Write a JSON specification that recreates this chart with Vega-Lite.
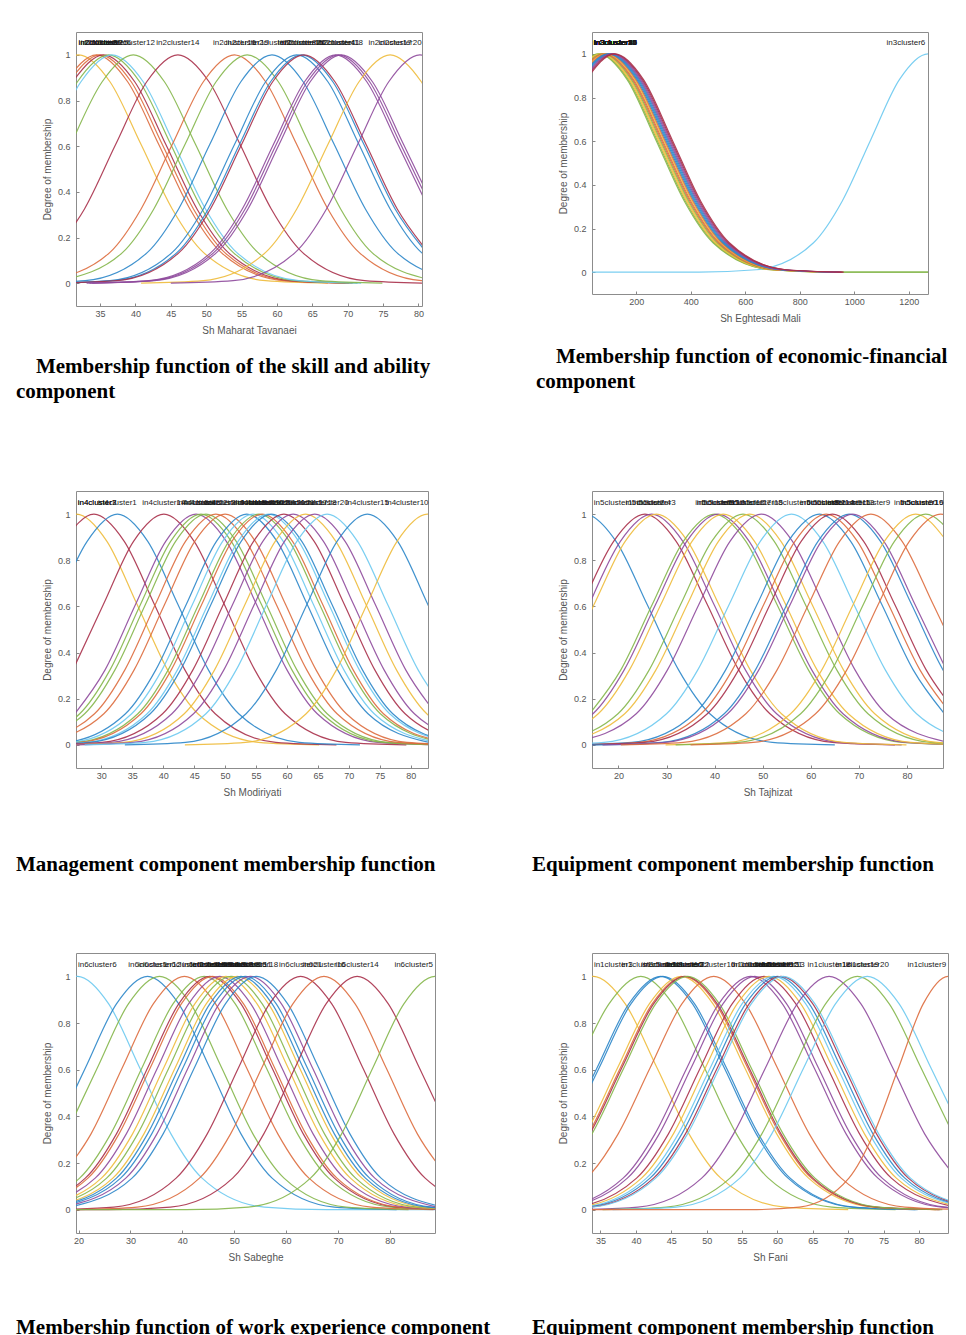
{
"$schema": "https://vega.github.io/schema/vega-lite/v6.json",
"background": "white",
"padding": {"left": 15, "top": 31, "right": 5, "bottom": 5},
"bounds": "flush",
"columns": 2,
"spacing": {"row": 185, "column": 157},
"datasets": {
"p1": [
{"k":3,"x":27.6,"y":0.882},{"k":3,"x":32,"y":1},{"k":3,"x":36.4,"y":0.882},{"k":3,"x":40.8,"y":0.607},{"k":3,"x":45.2,"y":0.325},{"k":3,"x":49.6,"y":0.135},{"k":3,"x":58.4,"y":0.011},{"k":3,"x":67.2,"y":0},
{"k":2,"x":30.1,"y":0.882},{"k":2,"x":34.5,"y":1},{"k":2,"x":38.9,"y":0.882},{"k":2,"x":43.3,"y":0.607},{"k":2,"x":47.7,"y":0.325},{"k":2,"x":52.1,"y":0.135},{"k":2,"x":60.9,"y":0.011},{"k":2,"x":69.7,"y":0},
{"k":9,"x":30.6,"y":0.882},{"k":9,"x":35,"y":1},{"k":9,"x":39.4,"y":0.882},{"k":9,"x":43.8,"y":0.607},{"k":9,"x":48.2,"y":0.325},{"k":9,"x":52.6,"y":0.135},{"k":9,"x":61.4,"y":0.011},{"k":9,"x":70.2,"y":0},
{"k":7,"x":31.1,"y":0.882},{"k":7,"x":35.5,"y":1},{"k":7,"x":39.9,"y":0.882},{"k":7,"x":44.3,"y":0.607},{"k":7,"x":48.7,"y":0.325},{"k":7,"x":53.1,"y":0.135},{"k":7,"x":61.9,"y":0.011},{"k":7,"x":70.7,"y":0},
{"k":5,"x":27.4,"y":0.607},{"k":5,"x":31.8,"y":0.882},{"k":5,"x":36.2,"y":1},{"k":5,"x":40.6,"y":0.882},{"k":5,"x":45,"y":0.607},{"k":5,"x":49.4,"y":0.325},{"k":5,"x":53.8,"y":0.135},{"k":5,"x":62.6,"y":0.011},{"k":5,"x":71.4,"y":0},
{"k":6,"x":27.9,"y":0.607},{"k":6,"x":32.3,"y":0.882},{"k":6,"x":36.7,"y":1},{"k":6,"x":41.1,"y":0.882},{"k":6,"x":45.5,"y":0.607},{"k":6,"x":49.9,"y":0.325},{"k":6,"x":54.3,"y":0.135},{"k":6,"x":63.1,"y":0.011},{"k":6,"x":71.9,"y":0},
{"k":12,"x":30.9,"y":0.607},{"k":12,"x":35.3,"y":0.882},{"k":12,"x":39.7,"y":1},{"k":12,"x":44.1,"y":0.882},{"k":12,"x":48.5,"y":0.607},{"k":12,"x":52.9,"y":0.325},{"k":12,"x":57.3,"y":0.135},{"k":12,"x":66.1,"y":0.011},{"k":12,"x":74.9,"y":0},
{"k":14,"x":28.4,"y":0.135},{"k":14,"x":32.8,"y":0.325},{"k":14,"x":37.2,"y":0.607},{"k":14,"x":41.6,"y":0.882},{"k":14,"x":46,"y":1},{"k":14,"x":50.4,"y":0.882},{"k":14,"x":54.8,"y":0.607},{"k":14,"x":59.2,"y":0.325},{"k":14,"x":63.6,"y":0.135},{"k":14,"x":72.4,"y":0.011},{"k":14,"x":81.2,"y":0},
{"k":16,"x":27.6,"y":0.011},{"k":16,"x":36.4,"y":0.135},{"k":16,"x":40.8,"y":0.325},{"k":16,"x":45.2,"y":0.607},{"k":16,"x":49.6,"y":0.882},{"k":16,"x":54,"y":1},{"k":16,"x":58.4,"y":0.882},{"k":16,"x":62.8,"y":0.607},{"k":16,"x":67.2,"y":0.325},{"k":16,"x":71.6,"y":0.135},{"k":16,"x":80.4,"y":0.011},{"k":16,"x":89.2,"y":0},
{"k":19,"x":29.4,"y":0.011},{"k":19,"x":38.2,"y":0.135},{"k":19,"x":42.6,"y":0.325},{"k":19,"x":47,"y":0.607},{"k":19,"x":51.4,"y":0.882},{"k":19,"x":55.8,"y":1},{"k":19,"x":60.2,"y":0.882},{"k":19,"x":64.6,"y":0.607},{"k":19,"x":69,"y":0.325},{"k":19,"x":73.4,"y":0.135},{"k":19,"x":82.2,"y":0.011},
{"k":1,"x":24.1,"y":0},{"k":1,"x":32.9,"y":0.011},{"k":1,"x":41.7,"y":0.135},{"k":1,"x":46.1,"y":0.325},{"k":1,"x":50.5,"y":0.607},{"k":1,"x":54.9,"y":0.882},{"k":1,"x":59.3,"y":1},{"k":1,"x":63.7,"y":0.882},{"k":1,"x":68.1,"y":0.607},{"k":1,"x":72.5,"y":0.325},{"k":1,"x":76.9,"y":0.135},{"k":1,"x":85.7,"y":0.011},
{"k":8,"x":27.6,"y":0},{"k":8,"x":36.4,"y":0.011},{"k":8,"x":45.2,"y":0.135},{"k":8,"x":49.6,"y":0.325},{"k":8,"x":54,"y":0.607},{"k":8,"x":58.4,"y":0.882},{"k":8,"x":62.8,"y":1},{"k":8,"x":67.2,"y":0.882},{"k":8,"x":71.6,"y":0.607},{"k":8,"x":76,"y":0.325},{"k":8,"x":80.4,"y":0.135},{"k":8,"x":89.2,"y":0.011},
{"k":15,"x":28.3,"y":0},{"k":15,"x":37.1,"y":0.011},{"k":15,"x":45.9,"y":0.135},{"k":15,"x":50.3,"y":0.325},{"k":15,"x":54.7,"y":0.607},{"k":15,"x":59.1,"y":0.882},{"k":15,"x":63.5,"y":1},{"k":15,"x":67.9,"y":0.882},{"k":15,"x":72.3,"y":0.607},{"k":15,"x":76.7,"y":0.325},{"k":15,"x":81.1,"y":0.135},
{"k":21,"x":28.6,"y":0},{"k":21,"x":37.4,"y":0.011},{"k":21,"x":46.2,"y":0.135},{"k":21,"x":50.6,"y":0.325},{"k":21,"x":55,"y":0.607},{"k":21,"x":59.4,"y":0.882},{"k":21,"x":63.8,"y":1},{"k":21,"x":68.2,"y":0.882},{"k":21,"x":72.6,"y":0.607},{"k":21,"x":77,"y":0.325},{"k":21,"x":81.4,"y":0.135},
{"k":4,"x":33.1,"y":0},{"k":4,"x":41.9,"y":0.011},{"k":4,"x":50.7,"y":0.135},{"k":4,"x":55.1,"y":0.325},{"k":4,"x":59.5,"y":0.607},{"k":4,"x":63.9,"y":0.882},{"k":4,"x":68.3,"y":1},{"k":4,"x":72.7,"y":0.882},{"k":4,"x":77.1,"y":0.607},{"k":4,"x":81.5,"y":0.325},
{"k":11,"x":33.5,"y":0},{"k":11,"x":42.3,"y":0.011},{"k":11,"x":51.1,"y":0.135},{"k":11,"x":55.5,"y":0.325},{"k":11,"x":59.9,"y":0.607},{"k":11,"x":64.3,"y":0.882},{"k":11,"x":68.7,"y":1},{"k":11,"x":73.1,"y":0.882},{"k":11,"x":77.5,"y":0.607},{"k":11,"x":81.9,"y":0.325},
{"k":18,"x":33.9,"y":0},{"k":18,"x":42.7,"y":0.011},{"k":18,"x":51.5,"y":0.135},{"k":18,"x":55.9,"y":0.325},{"k":18,"x":60.3,"y":0.607},{"k":18,"x":64.7,"y":0.882},{"k":18,"x":69.1,"y":1},{"k":18,"x":73.5,"y":0.882},{"k":18,"x":77.9,"y":0.607},{"k":18,"x":82.3,"y":0.325},
{"k":17,"x":40.8,"y":0},{"k":17,"x":49.6,"y":0.011},{"k":17,"x":58.4,"y":0.135},{"k":17,"x":62.8,"y":0.325},{"k":17,"x":67.2,"y":0.607},{"k":17,"x":71.6,"y":0.882},{"k":17,"x":76,"y":1},{"k":17,"x":80.4,"y":0.882},{"k":17,"x":84.8,"y":0.607},
{"k":25,"x":45,"y":0},{"k":25,"x":53.8,"y":0.011},{"k":25,"x":62.6,"y":0.135},{"k":25,"x":67,"y":0.325},{"k":25,"x":71.4,"y":0.607},{"k":25,"x":75.8,"y":0.882},{"k":25,"x":80.2,"y":1},{"k":25,"x":84.6,"y":0.882}
],
"l1": [
{"lx":34.7,"t":"in2cluster3"},{"lx":34.7,"t":"in2cluster2"},{"lx":35,"t":"in2cluster9"},{"lx":35.5,"t":"in2cluster7"},{"lx":36.2,"t":"in2cluster5"},{"lx":36.7,"t":"in2cluster6"},{"lx":39.7,"t":"in2cluster12"},{"lx":46,"t":"in2cluster14"},{"lx":54,"t":"in2cluster16"},{"lx":55.8,"t":"in2cluster19"},{"lx":59.3,"t":"in2cluster1"},{"lx":62.8,"t":"in2cluster8"},{"lx":63.5,"t":"in2cluster15"},{"lx":63.8,"t":"in2cluster21"},{"lx":68.3,"t":"in2cluster4"},{"lx":68.7,"t":"in2cluster11"},{"lx":69.1,"t":"in2cluster18"},{"lx":76,"t":"in2cluster17"},{"lx":77.4,"t":"in2cluster20"}
],
"p2": [
{"k":6,"x":20,"y":0},{"k":6,"x":431,"y":0},{"k":6,"x":641,"y":0.011},{"k":6,"x":851,"y":0.135},{"k":6,"x":956,"y":0.325},{"k":6,"x":1061,"y":0.607},{"k":6,"x":1166,"y":0.882},{"k":6,"x":1271,"y":1},{"k":6,"x":1376,"y":0.882},
{"k":5,"x":-43,"y":0.882},{"k":5,"x":62,"y":1},{"k":5,"x":167,"y":0.882},{"k":5,"x":272,"y":0.607},{"k":5,"x":377,"y":0.325},{"k":5,"x":482,"y":0.135},{"k":5,"x":692,"y":0.011},{"k":5,"x":902,"y":0},{"k":5,"x":1290,"y":0},
{"k":12,"x":-39,"y":0.882},{"k":12,"x":66,"y":1},{"k":12,"x":171,"y":0.882},{"k":12,"x":276,"y":0.607},{"k":12,"x":381,"y":0.325},{"k":12,"x":486,"y":0.135},{"k":12,"x":696,"y":0.011},{"k":12,"x":906,"y":0},{"k":12,"x":1290,"y":0},
{"k":3,"x":-35,"y":0.882},{"k":3,"x":70,"y":1},{"k":3,"x":175,"y":0.882},{"k":3,"x":280,"y":0.607},{"k":3,"x":385,"y":0.325},{"k":3,"x":490,"y":0.135},{"k":3,"x":700,"y":0.011},{"k":3,"x":910,"y":0},
{"k":10,"x":-31,"y":0.882},{"k":10,"x":74,"y":1},{"k":10,"x":179,"y":0.882},{"k":10,"x":284,"y":0.607},{"k":10,"x":389,"y":0.325},{"k":10,"x":494,"y":0.135},{"k":10,"x":704,"y":0.011},{"k":10,"x":914,"y":0},
{"k":19,"x":-27,"y":0.882},{"k":19,"x":78,"y":1},{"k":19,"x":183,"y":0.882},{"k":19,"x":288,"y":0.607},{"k":19,"x":393,"y":0.325},{"k":19,"x":498,"y":0.135},{"k":19,"x":708,"y":0.011},{"k":19,"x":918,"y":0},
{"k":2,"x":-23,"y":0.882},{"k":2,"x":82,"y":1},{"k":2,"x":187,"y":0.882},{"k":2,"x":292,"y":0.607},{"k":2,"x":397,"y":0.325},{"k":2,"x":502,"y":0.135},{"k":2,"x":712,"y":0.011},{"k":2,"x":922,"y":0},
{"k":9,"x":-19,"y":0.882},{"k":9,"x":86,"y":1},{"k":9,"x":191,"y":0.882},{"k":9,"x":296,"y":0.607},{"k":9,"x":401,"y":0.325},{"k":9,"x":506,"y":0.135},{"k":9,"x":716,"y":0.011},{"k":9,"x":926,"y":0},
{"k":17,"x":-15,"y":0.882},{"k":17,"x":90,"y":1},{"k":17,"x":195,"y":0.882},{"k":17,"x":300,"y":0.607},{"k":17,"x":405,"y":0.325},{"k":17,"x":510,"y":0.135},{"k":17,"x":720,"y":0.011},{"k":17,"x":930,"y":0},
{"k":16,"x":-11,"y":0.882},{"k":16,"x":94,"y":1},{"k":16,"x":199,"y":0.882},{"k":16,"x":304,"y":0.607},{"k":16,"x":409,"y":0.325},{"k":16,"x":514,"y":0.135},{"k":16,"x":724,"y":0.011},{"k":16,"x":934,"y":0},
{"k":1,"x":-7,"y":0.882},{"k":1,"x":98,"y":1},{"k":1,"x":203,"y":0.882},{"k":1,"x":308,"y":0.607},{"k":1,"x":413,"y":0.325},{"k":1,"x":518,"y":0.135},{"k":1,"x":728,"y":0.011},{"k":1,"x":938,"y":0},
{"k":8,"x":-3,"y":0.882},{"k":8,"x":102,"y":1},{"k":8,"x":207,"y":0.882},{"k":8,"x":312,"y":0.607},{"k":8,"x":417,"y":0.325},{"k":8,"x":522,"y":0.135},{"k":8,"x":732,"y":0.011},{"k":8,"x":942,"y":0},
{"k":15,"x":1,"y":0.882},{"k":15,"x":106,"y":1},{"k":15,"x":211,"y":0.882},{"k":15,"x":316,"y":0.607},{"k":15,"x":421,"y":0.325},{"k":15,"x":526,"y":0.135},{"k":15,"x":736,"y":0.011},{"k":15,"x":946,"y":0},
{"k":4,"x":5,"y":0.882},{"k":4,"x":110,"y":1},{"k":4,"x":215,"y":0.882},{"k":4,"x":320,"y":0.607},{"k":4,"x":425,"y":0.325},{"k":4,"x":530,"y":0.135},{"k":4,"x":740,"y":0.011},{"k":4,"x":950,"y":0},
{"k":11,"x":9,"y":0.882},{"k":11,"x":114,"y":1},{"k":11,"x":219,"y":0.882},{"k":11,"x":324,"y":0.607},{"k":11,"x":429,"y":0.325},{"k":11,"x":534,"y":0.135},{"k":11,"x":744,"y":0.011},{"k":11,"x":954,"y":0},
{"k":7,"x":13,"y":0.882},{"k":7,"x":118,"y":1},{"k":7,"x":223,"y":0.882},{"k":7,"x":328,"y":0.607},{"k":7,"x":433,"y":0.325},{"k":7,"x":538,"y":0.135},{"k":7,"x":748,"y":0.011},{"k":7,"x":958,"y":0},
{"k":14,"x":17,"y":0.882},{"k":14,"x":122,"y":1},{"k":14,"x":227,"y":0.882},{"k":14,"x":332,"y":0.607},{"k":14,"x":437,"y":0.325},{"k":14,"x":542,"y":0.135},{"k":14,"x":752,"y":0.011},{"k":14,"x":962,"y":0}
],
"l2": [
{"lx":116,"t":"in3cluster5"},{"lx":124,"t":"in3cluster12"},{"lx":116,"t":"in3cluster3"},{"lx":124,"t":"in3cluster10"},{"lx":124,"t":"in3cluster19"},{"lx":116,"t":"in3cluster2"},{"lx":116,"t":"in3cluster9"},{"lx":124,"t":"in3cluster17"},{"lx":124,"t":"in3cluster16"},{"lx":116,"t":"in3cluster1"},{"lx":116,"t":"in3cluster8"},{"lx":124,"t":"in3cluster15"},{"lx":116,"t":"in3cluster4"},{"lx":124,"t":"in3cluster11"},{"lx":116,"t":"in3cluster7"},{"lx":124,"t":"in3cluster14"},{"lx":1190,"t":"in3cluster6"}
],
"p3": [
{"k":3,"x":21.1,"y":0.882},{"k":3,"x":26,"y":1},{"k":3,"x":30.9,"y":0.882},{"k":3,"x":35.8,"y":0.607},{"k":3,"x":40.7,"y":0.325},{"k":3,"x":45.6,"y":0.135},{"k":3,"x":55.4,"y":0.011},{"k":3,"x":65.2,"y":0},
{"k":7,"x":23.9,"y":0.882},{"k":7,"x":28.8,"y":1},{"k":7,"x":33.7,"y":0.882},{"k":7,"x":38.6,"y":0.607},{"k":7,"x":43.5,"y":0.325},{"k":7,"x":48.4,"y":0.135},{"k":7,"x":58.2,"y":0.011},{"k":7,"x":68,"y":0},
{"k":1,"x":22.8,"y":0.607},{"k":1,"x":27.7,"y":0.882},{"k":1,"x":32.6,"y":1},{"k":1,"x":37.5,"y":0.882},{"k":1,"x":42.4,"y":0.607},{"k":1,"x":47.3,"y":0.325},{"k":1,"x":52.2,"y":0.135},{"k":1,"x":62,"y":0.011},{"k":1,"x":71.8,"y":0},
{"k":14,"x":25.4,"y":0.325},{"k":14,"x":30.3,"y":0.607},{"k":14,"x":35.2,"y":0.882},{"k":14,"x":40.1,"y":1},{"k":14,"x":45,"y":0.882},{"k":14,"x":49.9,"y":0.607},{"k":14,"x":54.8,"y":0.325},{"k":14,"x":59.7,"y":0.135},{"k":14,"x":69.5,"y":0.011},{"k":14,"x":79.3,"y":0},
{"k":4,"x":25.7,"y":0.135},{"k":4,"x":30.6,"y":0.325},{"k":4,"x":35.5,"y":0.607},{"k":4,"x":40.4,"y":0.882},{"k":4,"x":45.3,"y":1},{"k":4,"x":50.2,"y":0.882},{"k":4,"x":55.1,"y":0.607},{"k":4,"x":60,"y":0.325},{"k":4,"x":64.9,"y":0.135},{"k":4,"x":74.7,"y":0.011},{"k":4,"x":84.5,"y":0},
{"k":5,"x":16.7,"y":0.011},{"k":5,"x":26.5,"y":0.135},{"k":5,"x":31.4,"y":0.325},{"k":5,"x":36.3,"y":0.607},{"k":5,"x":41.2,"y":0.882},{"k":5,"x":46.1,"y":1},{"k":5,"x":51,"y":0.882},{"k":5,"x":55.9,"y":0.607},{"k":5,"x":60.8,"y":0.325},{"k":5,"x":65.7,"y":0.135},{"k":5,"x":75.5,"y":0.011},{"k":5,"x":85.3,"y":0},
{"k":12,"x":17.5,"y":0.011},{"k":12,"x":27.3,"y":0.135},{"k":12,"x":32.2,"y":0.325},{"k":12,"x":37.1,"y":0.607},{"k":12,"x":42,"y":0.882},{"k":12,"x":46.9,"y":1},{"k":12,"x":51.8,"y":0.882},{"k":12,"x":56.7,"y":0.607},{"k":12,"x":61.6,"y":0.325},{"k":12,"x":66.5,"y":0.135},{"k":12,"x":76.3,"y":0.011},{"k":12,"x":86.1,"y":0},
{"k":2,"x":19.1,"y":0.011},{"k":2,"x":28.9,"y":0.135},{"k":2,"x":33.8,"y":0.325},{"k":2,"x":38.7,"y":0.607},{"k":2,"x":43.6,"y":0.882},{"k":2,"x":48.5,"y":1},{"k":2,"x":53.4,"y":0.882},{"k":2,"x":58.3,"y":0.607},{"k":2,"x":63.2,"y":0.325},{"k":2,"x":68.1,"y":0.135},{"k":2,"x":77.9,"y":0.011},{"k":2,"x":87.7,"y":0},
{"k":9,"x":20.6,"y":0.011},{"k":9,"x":30.4,"y":0.135},{"k":9,"x":35.3,"y":0.325},{"k":9,"x":40.2,"y":0.607},{"k":9,"x":45.1,"y":0.882},{"k":9,"x":50,"y":1},{"k":9,"x":54.9,"y":0.882},{"k":9,"x":59.8,"y":0.607},{"k":9,"x":64.7,"y":0.325},{"k":9,"x":69.6,"y":0.135},{"k":9,"x":79.4,"y":0.011},{"k":9,"x":89.2,"y":0},
{"k":8,"x":14.3,"y":0},{"k":8,"x":24.1,"y":0.011},{"k":8,"x":33.9,"y":0.135},{"k":8,"x":38.8,"y":0.325},{"k":8,"x":43.7,"y":0.607},{"k":8,"x":48.6,"y":0.882},{"k":8,"x":53.5,"y":1},{"k":8,"x":58.4,"y":0.882},{"k":8,"x":63.3,"y":0.607},{"k":8,"x":68.2,"y":0.325},{"k":8,"x":73.1,"y":0.135},{"k":8,"x":82.9,"y":0.011},
{"k":6,"x":15.3,"y":0},{"k":6,"x":25.1,"y":0.011},{"k":6,"x":34.9,"y":0.135},{"k":6,"x":39.8,"y":0.325},{"k":6,"x":44.7,"y":0.607},{"k":6,"x":49.6,"y":0.882},{"k":6,"x":54.5,"y":1},{"k":6,"x":59.4,"y":0.882},{"k":6,"x":64.3,"y":0.607},{"k":6,"x":69.2,"y":0.325},{"k":6,"x":74.1,"y":0.135},{"k":6,"x":83.9,"y":0.011},
{"k":19,"x":16.3,"y":0},{"k":19,"x":26.1,"y":0.011},{"k":19,"x":35.9,"y":0.135},{"k":19,"x":40.8,"y":0.325},{"k":19,"x":45.7,"y":0.607},{"k":19,"x":50.6,"y":0.882},{"k":19,"x":55.5,"y":1},{"k":19,"x":60.4,"y":0.882},{"k":19,"x":65.3,"y":0.607},{"k":19,"x":70.2,"y":0.325},{"k":19,"x":75.1,"y":0.135},{"k":19,"x":84.9,"y":0.011},
{"k":16,"x":16.8,"y":0},{"k":16,"x":26.6,"y":0.011},{"k":16,"x":36.4,"y":0.135},{"k":16,"x":41.3,"y":0.325},{"k":16,"x":46.2,"y":0.607},{"k":16,"x":51.1,"y":0.882},{"k":16,"x":56,"y":1},{"k":16,"x":60.9,"y":0.882},{"k":16,"x":65.8,"y":0.607},{"k":16,"x":70.7,"y":0.325},{"k":16,"x":75.6,"y":0.135},{"k":16,"x":85.4,"y":0.011},
{"k":13,"x":17.8,"y":0},{"k":13,"x":27.6,"y":0.011},{"k":13,"x":37.4,"y":0.135},{"k":13,"x":42.3,"y":0.325},{"k":13,"x":47.2,"y":0.607},{"k":13,"x":52.1,"y":0.882},{"k":13,"x":57,"y":1},{"k":13,"x":61.9,"y":0.882},{"k":13,"x":66.8,"y":0.607},{"k":13,"x":71.7,"y":0.325},{"k":13,"x":76.6,"y":0.135},{"k":13,"x":86.4,"y":0.011},
{"k":15,"x":18.3,"y":0},{"k":15,"x":28.1,"y":0.011},{"k":15,"x":37.9,"y":0.135},{"k":15,"x":42.8,"y":0.325},{"k":15,"x":47.7,"y":0.607},{"k":15,"x":52.6,"y":0.882},{"k":15,"x":57.5,"y":1},{"k":15,"x":62.4,"y":0.882},{"k":15,"x":67.3,"y":0.607},{"k":15,"x":72.2,"y":0.325},{"k":15,"x":77.1,"y":0.135},{"k":15,"x":86.9,"y":0.011},
{"k":21,"x":20.3,"y":0},{"k":21,"x":30.1,"y":0.011},{"k":21,"x":39.9,"y":0.135},{"k":21,"x":44.8,"y":0.325},{"k":21,"x":49.7,"y":0.607},{"k":21,"x":54.6,"y":0.882},{"k":21,"x":59.5,"y":1},{"k":21,"x":64.4,"y":0.882},{"k":21,"x":69.3,"y":0.607},{"k":21,"x":74.2,"y":0.325},{"k":21,"x":79.1,"y":0.135},{"k":21,"x":88.9,"y":0.011},
{"k":11,"x":21.8,"y":0},{"k":11,"x":31.6,"y":0.011},{"k":11,"x":41.4,"y":0.135},{"k":11,"x":46.3,"y":0.325},{"k":11,"x":51.2,"y":0.607},{"k":11,"x":56.1,"y":0.882},{"k":11,"x":61,"y":1},{"k":11,"x":65.9,"y":0.882},{"k":11,"x":70.8,"y":0.607},{"k":11,"x":75.7,"y":0.325},{"k":11,"x":80.6,"y":0.135},{"k":11,"x":90.4,"y":0.011},
{"k":17,"x":23.8,"y":0},{"k":17,"x":33.6,"y":0.011},{"k":17,"x":43.4,"y":0.135},{"k":17,"x":48.3,"y":0.325},{"k":17,"x":53.2,"y":0.607},{"k":17,"x":58.1,"y":0.882},{"k":17,"x":63,"y":1},{"k":17,"x":67.9,"y":0.882},{"k":17,"x":72.8,"y":0.607},{"k":17,"x":77.7,"y":0.325},{"k":17,"x":82.6,"y":0.135},{"k":17,"x":92.4,"y":0.011},
{"k":18,"x":25.3,"y":0},{"k":18,"x":35.1,"y":0.011},{"k":18,"x":44.9,"y":0.135},{"k":18,"x":49.8,"y":0.325},{"k":18,"x":54.7,"y":0.607},{"k":18,"x":59.6,"y":0.882},{"k":18,"x":64.5,"y":1},{"k":18,"x":69.4,"y":0.882},{"k":18,"x":74.3,"y":0.607},{"k":18,"x":79.2,"y":0.325},{"k":18,"x":84.1,"y":0.135},
{"k":20,"x":27.3,"y":0},{"k":20,"x":37.1,"y":0.011},{"k":20,"x":46.9,"y":0.135},{"k":20,"x":51.8,"y":0.325},{"k":20,"x":56.7,"y":0.607},{"k":20,"x":61.6,"y":0.882},{"k":20,"x":66.5,"y":1},{"k":20,"x":71.4,"y":0.882},{"k":20,"x":76.3,"y":0.607},{"k":20,"x":81.2,"y":0.325},{"k":20,"x":86.1,"y":0.135},
{"k":22,"x":33.8,"y":0},{"k":22,"x":43.6,"y":0.011},{"k":22,"x":53.4,"y":0.135},{"k":22,"x":58.3,"y":0.325},{"k":22,"x":63.2,"y":0.607},{"k":22,"x":68.1,"y":0.882},{"k":22,"x":73,"y":1},{"k":22,"x":77.9,"y":0.882},{"k":22,"x":82.8,"y":0.607},{"k":22,"x":87.7,"y":0.325},
{"k":10,"x":43.5,"y":0},{"k":10,"x":53.3,"y":0.011},{"k":10,"x":63.1,"y":0.135},{"k":10,"x":68,"y":0.325},{"k":10,"x":72.9,"y":0.607},{"k":10,"x":77.8,"y":0.882},{"k":10,"x":82.7,"y":1},{"k":10,"x":87.6,"y":0.882}
],
"l3": [
{"lx":29.3,"t":"in4cluster3"},{"lx":29.3,"t":"in4cluster7"},{"lx":32.6,"t":"in4cluster1"},{"lx":40.1,"t":"in4cluster14"},{"lx":45.3,"t":"in4cluster4"},{"lx":46.1,"t":"in4cluster5"},{"lx":46.9,"t":"in4cluster12"},{"lx":48.5,"t":"in4cluster2"},{"lx":50,"t":"in4cluster9"},{"lx":53.5,"t":"in4cluster8"},{"lx":54.5,"t":"in4cluster6"},{"lx":55.5,"t":"in4cluster19"},{"lx":56,"t":"in4cluster16"},{"lx":57,"t":"in4cluster13"},{"lx":57.5,"t":"in4cluster15"},{"lx":59.5,"t":"in4cluster21"},{"lx":61,"t":"in4cluster11"},{"lx":63,"t":"in4cluster17"},{"lx":64.5,"t":"in4cluster18"},{"lx":66.5,"t":"in4cluster20"},{"lx":73,"t":"in4cluster15"},{"lx":79.4,"t":"in4cluster10"}
],
"p4": [
{"k":1,"x":6.5,"y":0.882},{"k":1,"x":13,"y":1},{"k":1,"x":19.5,"y":0.882},{"k":1,"x":26,"y":0.607},{"k":1,"x":32.5,"y":0.325},{"k":1,"x":39,"y":0.135},{"k":1,"x":52,"y":0.011},{"k":1,"x":65,"y":0},
{"k":7,"x":12.5,"y":0.607},{"k":7,"x":19,"y":0.882},{"k":7,"x":25.5,"y":1},{"k":7,"x":32,"y":0.882},{"k":7,"x":38.5,"y":0.607},{"k":7,"x":45,"y":0.325},{"k":7,"x":51.5,"y":0.135},{"k":7,"x":64.5,"y":0.011},{"k":7,"x":77.5,"y":0},
{"k":4,"x":13.9,"y":0.607},{"k":4,"x":20.4,"y":0.882},{"k":4,"x":26.9,"y":1},{"k":4,"x":33.4,"y":0.882},{"k":4,"x":39.9,"y":0.607},{"k":4,"x":46.4,"y":0.325},{"k":4,"x":52.9,"y":0.135},{"k":4,"x":65.9,"y":0.011},{"k":4,"x":78.9,"y":0},
{"k":3,"x":8.4,"y":0.325},{"k":3,"x":14.9,"y":0.607},{"k":3,"x":21.4,"y":0.882},{"k":3,"x":27.9,"y":1},{"k":3,"x":34.4,"y":0.882},{"k":3,"x":40.9,"y":0.607},{"k":3,"x":47.4,"y":0.325},{"k":3,"x":53.9,"y":0.135},{"k":3,"x":66.9,"y":0.011},{"k":3,"x":79.9,"y":0},
{"k":5,"x":14,"y":0.135},{"k":5,"x":20.5,"y":0.325},{"k":5,"x":27,"y":0.607},{"k":5,"x":33.5,"y":0.882},{"k":5,"x":40,"y":1},{"k":5,"x":46.5,"y":0.882},{"k":5,"x":53,"y":0.607},{"k":5,"x":59.5,"y":0.325},{"k":5,"x":66,"y":0.135},{"k":5,"x":79,"y":0.011},{"k":5,"x":92,"y":0},
{"k":11,"x":1.7,"y":0.011},{"k":11,"x":14.7,"y":0.135},{"k":11,"x":21.2,"y":0.325},{"k":11,"x":27.7,"y":0.607},{"k":11,"x":34.2,"y":0.882},{"k":11,"x":40.7,"y":1},{"k":11,"x":47.2,"y":0.882},{"k":11,"x":53.7,"y":0.607},{"k":11,"x":60.2,"y":0.325},{"k":11,"x":66.7,"y":0.135},{"k":11,"x":79.7,"y":0.011},{"k":11,"x":92.7,"y":0},
{"k":10,"x":2.8,"y":0.011},{"k":10,"x":15.8,"y":0.135},{"k":10,"x":22.3,"y":0.325},{"k":10,"x":28.8,"y":0.607},{"k":10,"x":35.3,"y":0.882},{"k":10,"x":41.8,"y":1},{"k":10,"x":48.3,"y":0.882},{"k":10,"x":54.8,"y":0.607},{"k":10,"x":61.3,"y":0.325},{"k":10,"x":67.8,"y":0.135},{"k":10,"x":80.8,"y":0.011},{"k":10,"x":93.8,"y":0},
{"k":12,"x":6.9,"y":0.011},{"k":12,"x":19.9,"y":0.135},{"k":12,"x":26.4,"y":0.325},{"k":12,"x":32.9,"y":0.607},{"k":12,"x":39.4,"y":0.882},{"k":12,"x":45.9,"y":1},{"k":12,"x":52.4,"y":0.882},{"k":12,"x":58.9,"y":0.607},{"k":12,"x":65.4,"y":0.325},{"k":12,"x":71.9,"y":0.135},{"k":12,"x":84.9,"y":0.011},{"k":12,"x":97.9,"y":0},
{"k":17,"x":8.3,"y":0.011},{"k":17,"x":21.3,"y":0.135},{"k":17,"x":27.8,"y":0.325},{"k":17,"x":34.3,"y":0.607},{"k":17,"x":40.8,"y":0.882},{"k":17,"x":47.3,"y":1},{"k":17,"x":53.8,"y":0.882},{"k":17,"x":60.3,"y":0.607},{"k":17,"x":66.8,"y":0.325},{"k":17,"x":73.3,"y":0.135},{"k":17,"x":86.3,"y":0.011},{"k":17,"x":99.3,"y":0},
{"k":18,"x":10.7,"y":0.011},{"k":18,"x":23.7,"y":0.135},{"k":18,"x":30.2,"y":0.325},{"k":18,"x":36.7,"y":0.607},{"k":18,"x":43.2,"y":0.882},{"k":18,"x":49.7,"y":1},{"k":18,"x":56.2,"y":0.882},{"k":18,"x":62.7,"y":0.607},{"k":18,"x":69.2,"y":0.325},{"k":18,"x":75.7,"y":0.135},{"k":18,"x":88.7,"y":0.011},
{"k":6,"x":4,"y":0},{"k":6,"x":17,"y":0.011},{"k":6,"x":30,"y":0.135},{"k":6,"x":36.5,"y":0.325},{"k":6,"x":43,"y":0.607},{"k":6,"x":49.5,"y":0.882},{"k":6,"x":56,"y":1},{"k":6,"x":62.5,"y":0.882},{"k":6,"x":69,"y":0.607},{"k":6,"x":75.5,"y":0.325},{"k":6,"x":82,"y":0.135},{"k":6,"x":95,"y":0.011},
{"k":8,"x":9.8,"y":0},{"k":8,"x":22.8,"y":0.011},{"k":8,"x":35.8,"y":0.135},{"k":8,"x":42.3,"y":0.325},{"k":8,"x":48.8,"y":0.607},{"k":8,"x":55.3,"y":0.882},{"k":8,"x":61.8,"y":1},{"k":8,"x":68.3,"y":0.882},{"k":8,"x":74.8,"y":0.607},{"k":8,"x":81.3,"y":0.325},{"k":8,"x":87.8,"y":0.135},
{"k":2,"x":11.2,"y":0},{"k":2,"x":24.2,"y":0.011},{"k":2,"x":37.2,"y":0.135},{"k":2,"x":43.7,"y":0.325},{"k":2,"x":50.2,"y":0.607},{"k":2,"x":56.7,"y":0.882},{"k":2,"x":63.2,"y":1},{"k":2,"x":69.7,"y":0.882},{"k":2,"x":76.2,"y":0.607},{"k":2,"x":82.7,"y":0.325},{"k":2,"x":89.2,"y":0.135},
{"k":14,"x":12.5,"y":0},{"k":14,"x":25.5,"y":0.011},{"k":14,"x":38.5,"y":0.135},{"k":14,"x":45,"y":0.325},{"k":14,"x":51.5,"y":0.607},{"k":14,"x":58,"y":0.882},{"k":14,"x":64.5,"y":1},{"k":14,"x":71,"y":0.882},{"k":14,"x":77.5,"y":0.607},{"k":14,"x":84,"y":0.325},{"k":14,"x":90.5,"y":0.135},
{"k":15,"x":3,"y":0},{"k":15,"x":16,"y":0},{"k":15,"x":29,"y":0.011},{"k":15,"x":42,"y":0.135},{"k":15,"x":48.5,"y":0.325},{"k":15,"x":55,"y":0.607},{"k":15,"x":61.5,"y":0.882},{"k":15,"x":68,"y":1},{"k":15,"x":74.5,"y":0.882},{"k":15,"x":81,"y":0.607},{"k":15,"x":87.5,"y":0.325},{"k":15,"x":94,"y":0.135},
{"k":25,"x":16.7,"y":0},{"k":25,"x":29.7,"y":0.011},{"k":25,"x":42.7,"y":0.135},{"k":25,"x":49.2,"y":0.325},{"k":25,"x":55.7,"y":0.607},{"k":25,"x":62.2,"y":0.882},{"k":25,"x":68.7,"y":1},{"k":25,"x":75.2,"y":0.882},{"k":25,"x":81.7,"y":0.607},{"k":25,"x":88.2,"y":0.325},
{"k":9,"x":20.5,"y":0},{"k":9,"x":33.5,"y":0.011},{"k":9,"x":46.5,"y":0.135},{"k":9,"x":53,"y":0.325},{"k":9,"x":59.5,"y":0.607},{"k":9,"x":66,"y":0.882},{"k":9,"x":72.5,"y":1},{"k":9,"x":79,"y":0.882},{"k":9,"x":85.5,"y":0.607},{"k":9,"x":92,"y":0.325},
{"k":24,"x":29.8,"y":0},{"k":24,"x":42.8,"y":0.011},{"k":24,"x":55.8,"y":0.135},{"k":24,"x":62.3,"y":0.325},{"k":24,"x":68.8,"y":0.607},{"k":24,"x":75.3,"y":0.882},{"k":24,"x":81.8,"y":1},{"k":24,"x":88.3,"y":0.882},
{"k":19,"x":31.9,"y":0},{"k":19,"x":44.9,"y":0.011},{"k":19,"x":57.9,"y":0.135},{"k":19,"x":64.4,"y":0.325},{"k":19,"x":70.9,"y":0.607},{"k":19,"x":77.4,"y":0.882},{"k":19,"x":83.9,"y":1},{"k":19,"x":90.4,"y":0.882},
{"k":16,"x":35,"y":0},{"k":16,"x":48,"y":0.011},{"k":16,"x":61,"y":0.135},{"k":16,"x":67.5,"y":0.325},{"k":16,"x":74,"y":0.607},{"k":16,"x":80.5,"y":0.882},{"k":16,"x":87,"y":1},{"k":16,"x":93.5,"y":0.882}
],
"l4": [
{"lx":18.9,"t":"in5cluster1"},{"lx":25.5,"t":"in5cluster7"},{"lx":26.9,"t":"in5cluster4"},{"lx":27.9,"t":"in5cluster3"},{"lx":40,"t":"in5cluster5"},{"lx":40.7,"t":"in5cluster11"},{"lx":41.8,"t":"in5cluster10"},{"lx":45.9,"t":"in5cluster12"},{"lx":47.3,"t":"in5cluster17"},{"lx":49.7,"t":"in5cluster18"},{"lx":56,"t":"in5cluster6"},{"lx":61.8,"t":"in5cluster8"},{"lx":63.2,"t":"in5cluster2"},{"lx":64.5,"t":"in5cluster14"},{"lx":68,"t":"in5cluster15"},{"lx":68.7,"t":"in5cluster13"},{"lx":72.5,"t":"in5cluster9"},{"lx":81.8,"t":"in5cluster20"},{"lx":83.1,"t":"in5cluster19"},{"lx":83.1,"t":"in5cluster16"}
],
"p5": [
{"k":6,"x":13.8,"y":0.882},{"k":6,"x":19.8,"y":1},{"k":6,"x":25.8,"y":0.882},{"k":6,"x":31.8,"y":0.607},{"k":6,"x":37.8,"y":0.325},{"k":6,"x":43.8,"y":0.135},{"k":6,"x":55.8,"y":0.011},{"k":6,"x":67.8,"y":0},{"k":6,"x":95,"y":0},
{"k":1,"x":15.3,"y":0.325},{"k":1,"x":21.3,"y":0.607},{"k":1,"x":27.3,"y":0.882},{"k":1,"x":33.3,"y":1},{"k":1,"x":39.3,"y":0.882},{"k":1,"x":45.3,"y":0.607},{"k":1,"x":51.3,"y":0.325},{"k":1,"x":57.3,"y":0.135},{"k":1,"x":69.3,"y":0.011},{"k":1,"x":81.3,"y":0},
{"k":26,"x":17.6,"y":0.325},{"k":26,"x":23.6,"y":0.607},{"k":26,"x":29.6,"y":0.882},{"k":26,"x":35.6,"y":1},{"k":26,"x":41.6,"y":0.882},{"k":26,"x":47.6,"y":0.607},{"k":26,"x":53.6,"y":0.325},{"k":26,"x":59.6,"y":0.135},{"k":26,"x":71.6,"y":0.011},{"k":26,"x":83.6,"y":0},
{"k":2,"x":16.4,"y":0.135},{"k":2,"x":22.4,"y":0.325},{"k":2,"x":28.4,"y":0.607},{"k":2,"x":34.4,"y":0.882},{"k":2,"x":40.4,"y":1},{"k":2,"x":46.4,"y":0.882},{"k":2,"x":52.4,"y":0.607},{"k":2,"x":58.4,"y":0.325},{"k":2,"x":64.4,"y":0.135},{"k":2,"x":76.4,"y":0.011},{"k":2,"x":88.4,"y":0},
{"k":12,"x":8.2,"y":0.011},{"k":12,"x":20.2,"y":0.135},{"k":12,"x":26.2,"y":0.325},{"k":12,"x":32.2,"y":0.607},{"k":12,"x":38.2,"y":0.882},{"k":12,"x":44.2,"y":1},{"k":12,"x":50.2,"y":0.882},{"k":12,"x":56.2,"y":0.607},{"k":12,"x":62.2,"y":0.325},{"k":12,"x":68.2,"y":0.135},{"k":12,"x":80.2,"y":0.011},{"k":12,"x":92.2,"y":0},
{"k":7,"x":9.3,"y":0.011},{"k":7,"x":21.3,"y":0.135},{"k":7,"x":27.3,"y":0.325},{"k":7,"x":33.3,"y":0.607},{"k":7,"x":39.3,"y":0.882},{"k":7,"x":45.3,"y":1},{"k":7,"x":51.3,"y":0.882},{"k":7,"x":57.3,"y":0.607},{"k":7,"x":63.3,"y":0.325},{"k":7,"x":69.3,"y":0.135},{"k":7,"x":81.3,"y":0.011},{"k":7,"x":93.3,"y":0},
{"k":9,"x":9.8,"y":0.011},{"k":9,"x":21.8,"y":0.135},{"k":9,"x":27.8,"y":0.325},{"k":9,"x":33.8,"y":0.607},{"k":9,"x":39.8,"y":0.882},{"k":9,"x":45.8,"y":1},{"k":9,"x":51.8,"y":0.882},{"k":9,"x":57.8,"y":0.607},{"k":9,"x":63.8,"y":0.325},{"k":9,"x":69.8,"y":0.135},{"k":9,"x":81.8,"y":0.011},{"k":9,"x":93.8,"y":0},
{"k":4,"x":11.2,"y":0.011},{"k":4,"x":23.2,"y":0.135},{"k":4,"x":29.2,"y":0.325},{"k":4,"x":35.2,"y":0.607},{"k":4,"x":41.2,"y":0.882},{"k":4,"x":47.2,"y":1},{"k":4,"x":53.2,"y":0.882},{"k":4,"x":59.2,"y":0.607},{"k":4,"x":65.2,"y":0.325},{"k":4,"x":71.2,"y":0.135},{"k":4,"x":83.2,"y":0.011},{"k":4,"x":95.2,"y":0},
{"k":3,"x":12.4,"y":0.011},{"k":3,"x":24.4,"y":0.135},{"k":3,"x":30.4,"y":0.325},{"k":3,"x":36.4,"y":0.607},{"k":3,"x":42.4,"y":0.882},{"k":3,"x":48.4,"y":1},{"k":3,"x":54.4,"y":0.882},{"k":3,"x":60.4,"y":0.607},{"k":3,"x":66.4,"y":0.325},{"k":3,"x":72.4,"y":0.135},{"k":3,"x":84.4,"y":0.011},{"k":3,"x":96.4,"y":0},
{"k":19,"x":13.4,"y":0.011},{"k":19,"x":25.4,"y":0.135},{"k":19,"x":31.4,"y":0.325},{"k":19,"x":37.4,"y":0.607},{"k":19,"x":43.4,"y":0.882},{"k":19,"x":49.4,"y":1},{"k":19,"x":55.4,"y":0.882},{"k":19,"x":61.4,"y":0.607},{"k":19,"x":67.4,"y":0.325},{"k":19,"x":73.4,"y":0.135},{"k":19,"x":85.4,"y":0.011},{"k":19,"x":97.4,"y":0},
{"k":10,"x":14.6,"y":0.011},{"k":10,"x":26.6,"y":0.135},{"k":10,"x":32.6,"y":0.325},{"k":10,"x":38.6,"y":0.607},{"k":10,"x":44.6,"y":0.882},{"k":10,"x":50.6,"y":1},{"k":10,"x":56.6,"y":0.882},{"k":10,"x":62.6,"y":0.607},{"k":10,"x":68.6,"y":0.325},{"k":10,"x":74.6,"y":0.135},{"k":10,"x":86.6,"y":0.011},{"k":10,"x":98.6,"y":0},
{"k":8,"x":15.3,"y":0.011},{"k":8,"x":27.3,"y":0.135},{"k":8,"x":33.3,"y":0.325},{"k":8,"x":39.3,"y":0.607},{"k":8,"x":45.3,"y":0.882},{"k":8,"x":51.3,"y":1},{"k":8,"x":57.3,"y":0.882},{"k":8,"x":63.3,"y":0.607},{"k":8,"x":69.3,"y":0.325},{"k":8,"x":75.3,"y":0.135},{"k":8,"x":87.3,"y":0.011},{"k":8,"x":99.3,"y":0},
{"k":15,"x":16.1,"y":0.011},{"k":15,"x":28.1,"y":0.135},{"k":15,"x":34.1,"y":0.325},{"k":15,"x":40.1,"y":0.607},{"k":15,"x":46.1,"y":0.882},{"k":15,"x":52.1,"y":1},{"k":15,"x":58.1,"y":0.882},{"k":15,"x":64.1,"y":0.607},{"k":15,"x":70.1,"y":0.325},{"k":15,"x":76.1,"y":0.135},{"k":15,"x":88.1,"y":0.011},{"k":15,"x":100.1,"y":0},
{"k":11,"x":17.1,"y":0.011},{"k":11,"x":29.1,"y":0.135},{"k":11,"x":35.1,"y":0.325},{"k":11,"x":41.1,"y":0.607},{"k":11,"x":47.1,"y":0.882},{"k":11,"x":53.1,"y":1},{"k":11,"x":59.1,"y":0.882},{"k":11,"x":65.1,"y":0.607},{"k":11,"x":71.1,"y":0.325},{"k":11,"x":77.1,"y":0.135},{"k":11,"x":89.1,"y":0.011},
{"k":22,"x":18.3,"y":0.011},{"k":22,"x":30.3,"y":0.135},{"k":22,"x":36.3,"y":0.325},{"k":22,"x":42.3,"y":0.607},{"k":22,"x":48.3,"y":0.882},{"k":22,"x":54.3,"y":1},{"k":22,"x":60.3,"y":0.882},{"k":22,"x":66.3,"y":0.607},{"k":22,"x":72.3,"y":0.325},{"k":22,"x":78.3,"y":0.135},{"k":22,"x":90.3,"y":0.011},
{"k":21,"x":14.8,"y":0},{"k":21,"x":26.8,"y":0.011},{"k":21,"x":38.8,"y":0.135},{"k":21,"x":44.8,"y":0.325},{"k":21,"x":50.8,"y":0.607},{"k":21,"x":56.8,"y":0.882},{"k":21,"x":62.8,"y":1},{"k":21,"x":68.8,"y":0.882},{"k":21,"x":74.8,"y":0.607},{"k":21,"x":80.8,"y":0.325},{"k":21,"x":86.8,"y":0.135},{"k":21,"x":98.8,"y":0.011},
{"k":16,"x":19.3,"y":0},{"k":16,"x":31.3,"y":0.011},{"k":16,"x":43.3,"y":0.135},{"k":16,"x":49.3,"y":0.325},{"k":16,"x":55.3,"y":0.607},{"k":16,"x":61.3,"y":0.882},{"k":16,"x":67.3,"y":1},{"k":16,"x":73.3,"y":0.882},{"k":16,"x":79.3,"y":0.607},{"k":16,"x":85.3,"y":0.325},{"k":16,"x":91.3,"y":0.135},
{"k":14,"x":15,"y":0},{"k":14,"x":25.7,"y":0},{"k":14,"x":37.7,"y":0.011},{"k":14,"x":49.7,"y":0.135},{"k":14,"x":55.7,"y":0.325},{"k":14,"x":61.7,"y":0.607},{"k":14,"x":67.7,"y":0.882},{"k":14,"x":73.7,"y":1},{"k":14,"x":79.7,"y":0.882},{"k":14,"x":85.7,"y":0.607},{"k":14,"x":91.7,"y":0.325},
{"k":5,"x":15,"y":0},{"k":5,"x":40.7,"y":0},{"k":5,"x":52.7,"y":0.011},{"k":5,"x":64.7,"y":0.135},{"k":5,"x":70.7,"y":0.325},{"k":5,"x":76.7,"y":0.607},{"k":5,"x":82.7,"y":0.882},{"k":5,"x":88.7,"y":1},{"k":5,"x":94.7,"y":0.882}
],
"l5": [
{"lx":23.6,"t":"in6cluster6"},{"lx":33.3,"t":"in6cluster1"},{"lx":35.6,"t":"in6cluster12"},{"lx":40.4,"t":"in6cluster2"},{"lx":44.2,"t":"in6cluster19"},{"lx":45.3,"t":"in6cluster7"},{"lx":45.8,"t":"in6cluster9"},{"lx":47.2,"t":"in6cluster4"},{"lx":48.4,"t":"in6cluster3"},{"lx":49.4,"t":"in6cluster17"},{"lx":50.6,"t":"in6cluster10"},{"lx":51.3,"t":"in6cluster8"},{"lx":52.1,"t":"in6cluster15"},{"lx":53.1,"t":"in6cluster11"},{"lx":54.3,"t":"in6cluster18"},{"lx":62.8,"t":"in6cluster21"},{"lx":67.3,"t":"in6cluster16"},{"lx":73.7,"t":"in6cluster14"},{"lx":84.6,"t":"in6cluster5"}
],
"p6": [
{"k":3,"x":29.5,"y":0.882},{"k":3,"x":34,"y":1},{"k":3,"x":38.5,"y":0.882},{"k":3,"x":43,"y":0.607},{"k":3,"x":47.5,"y":0.325},{"k":3,"x":52,"y":0.135},{"k":3,"x":61,"y":0.011},{"k":3,"x":70,"y":0},
{"k":5,"x":31.7,"y":0.607},{"k":5,"x":36.2,"y":0.882},{"k":5,"x":40.7,"y":1},{"k":5,"x":45.2,"y":0.882},{"k":5,"x":49.7,"y":0.607},{"k":5,"x":54.2,"y":0.325},{"k":5,"x":58.7,"y":0.135},{"k":5,"x":67.7,"y":0.011},{"k":5,"x":76.7,"y":0},
{"k":1,"x":30,"y":0.325},{"k":1,"x":34.5,"y":0.607},{"k":1,"x":39,"y":0.882},{"k":1,"x":43.5,"y":1},{"k":1,"x":48,"y":0.882},{"k":1,"x":52.5,"y":0.607},{"k":1,"x":57,"y":0.325},{"k":1,"x":61.5,"y":0.135},{"k":1,"x":70.5,"y":0.011},{"k":1,"x":79.5,"y":0},
{"k":8,"x":30.3,"y":0.325},{"k":8,"x":34.8,"y":0.607},{"k":8,"x":39.3,"y":0.882},{"k":8,"x":43.8,"y":1},{"k":8,"x":48.3,"y":0.882},{"k":8,"x":52.8,"y":0.607},{"k":8,"x":57.3,"y":0.325},{"k":8,"x":61.8,"y":0.135},{"k":8,"x":70.8,"y":0.011},{"k":8,"x":79.8,"y":0},
{"k":10,"x":28.4,"y":0.135},{"k":10,"x":32.9,"y":0.325},{"k":10,"x":37.4,"y":0.607},{"k":10,"x":41.9,"y":0.882},{"k":10,"x":46.4,"y":1},{"k":10,"x":50.9,"y":0.882},{"k":10,"x":55.4,"y":0.607},{"k":10,"x":59.9,"y":0.325},{"k":10,"x":64.4,"y":0.135},{"k":10,"x":73.4,"y":0.011},{"k":10,"x":82.4,"y":0},
{"k":2,"x":28.8,"y":0.135},{"k":2,"x":33.3,"y":0.325},{"k":2,"x":37.8,"y":0.607},{"k":2,"x":42.3,"y":0.882},{"k":2,"x":46.8,"y":1},{"k":2,"x":51.3,"y":0.882},{"k":2,"x":55.8,"y":0.607},{"k":2,"x":60.3,"y":0.325},{"k":2,"x":64.8,"y":0.135},{"k":2,"x":73.8,"y":0.011},{"k":2,"x":82.8,"y":0},
{"k":7,"x":29,"y":0.135},{"k":7,"x":33.5,"y":0.325},{"k":7,"x":38,"y":0.607},{"k":7,"x":42.5,"y":0.882},{"k":7,"x":47,"y":1},{"k":7,"x":51.5,"y":0.882},{"k":7,"x":56,"y":0.607},{"k":7,"x":60.5,"y":0.325},{"k":7,"x":65,"y":0.135},{"k":7,"x":74,"y":0.011},{"k":7,"x":83,"y":0},
{"k":12,"x":29.3,"y":0.135},{"k":12,"x":33.8,"y":0.325},{"k":12,"x":38.3,"y":0.607},{"k":12,"x":42.8,"y":0.882},{"k":12,"x":47.3,"y":1},{"k":12,"x":51.8,"y":0.882},{"k":12,"x":56.3,"y":0.607},{"k":12,"x":60.8,"y":0.325},{"k":12,"x":65.3,"y":0.135},{"k":12,"x":74.3,"y":0.011},{"k":12,"x":83.3,"y":0},
{"k":16,"x":24,"y":0.011},{"k":16,"x":33,"y":0.135},{"k":16,"x":37.5,"y":0.325},{"k":16,"x":42,"y":0.607},{"k":16,"x":46.5,"y":0.882},{"k":16,"x":51,"y":1},{"k":16,"x":55.5,"y":0.882},{"k":16,"x":60,"y":0.607},{"k":16,"x":64.5,"y":0.325},{"k":16,"x":69,"y":0.135},{"k":16,"x":78,"y":0.011},{"k":16,"x":87,"y":0},
{"k":4,"x":20.2,"y":0},{"k":4,"x":29.2,"y":0.011},{"k":4,"x":38.2,"y":0.135},{"k":4,"x":42.7,"y":0.325},{"k":4,"x":47.2,"y":0.607},{"k":4,"x":51.7,"y":0.882},{"k":4,"x":56.2,"y":1},{"k":4,"x":60.7,"y":0.882},{"k":4,"x":65.2,"y":0.607},{"k":4,"x":69.7,"y":0.325},{"k":4,"x":74.2,"y":0.135},{"k":4,"x":83.2,"y":0.011},{"k":4,"x":92.2,"y":0},
{"k":11,"x":20.8,"y":0},{"k":11,"x":29.8,"y":0.011},{"k":11,"x":38.8,"y":0.135},{"k":11,"x":43.3,"y":0.325},{"k":11,"x":47.8,"y":0.607},{"k":11,"x":52.3,"y":0.882},{"k":11,"x":56.8,"y":1},{"k":11,"x":61.3,"y":0.882},{"k":11,"x":65.8,"y":0.607},{"k":11,"x":70.3,"y":0.325},{"k":11,"x":74.8,"y":0.135},{"k":11,"x":83.8,"y":0.011},{"k":11,"x":92.8,"y":0},
{"k":14,"x":22.1,"y":0},{"k":14,"x":31.1,"y":0.011},{"k":14,"x":40.1,"y":0.135},{"k":14,"x":44.6,"y":0.325},{"k":14,"x":49.1,"y":0.607},{"k":14,"x":53.6,"y":0.882},{"k":14,"x":58.1,"y":1},{"k":14,"x":62.6,"y":0.882},{"k":14,"x":67.1,"y":0.607},{"k":14,"x":71.6,"y":0.325},{"k":14,"x":76.1,"y":0.135},{"k":14,"x":85.1,"y":0.011},
{"k":17,"x":22.8,"y":0},{"k":17,"x":31.8,"y":0.011},{"k":17,"x":40.8,"y":0.135},{"k":17,"x":45.3,"y":0.325},{"k":17,"x":49.8,"y":0.607},{"k":17,"x":54.3,"y":0.882},{"k":17,"x":58.8,"y":1},{"k":17,"x":63.3,"y":0.882},{"k":17,"x":67.8,"y":0.607},{"k":17,"x":72.3,"y":0.325},{"k":17,"x":76.8,"y":0.135},{"k":17,"x":85.8,"y":0.011},
{"k":6,"x":23.5,"y":0},{"k":6,"x":32.5,"y":0.011},{"k":6,"x":41.5,"y":0.135},{"k":6,"x":46,"y":0.325},{"k":6,"x":50.5,"y":0.607},{"k":6,"x":55,"y":0.882},{"k":6,"x":59.5,"y":1},{"k":6,"x":64,"y":0.882},{"k":6,"x":68.5,"y":0.607},{"k":6,"x":73,"y":0.325},{"k":6,"x":77.5,"y":0.135},{"k":6,"x":86.5,"y":0.011},
{"k":15,"x":24,"y":0},{"k":15,"x":33,"y":0.011},{"k":15,"x":42,"y":0.135},{"k":15,"x":46.5,"y":0.325},{"k":15,"x":51,"y":0.607},{"k":15,"x":55.5,"y":0.882},{"k":15,"x":60,"y":1},{"k":15,"x":64.5,"y":0.882},{"k":15,"x":69,"y":0.607},{"k":15,"x":73.5,"y":0.325},{"k":15,"x":78,"y":0.135},{"k":15,"x":87,"y":0.011},
{"k":21,"x":24.5,"y":0},{"k":21,"x":33.5,"y":0.011},{"k":21,"x":42.5,"y":0.135},{"k":21,"x":47,"y":0.325},{"k":21,"x":51.5,"y":0.607},{"k":21,"x":56,"y":0.882},{"k":21,"x":60.5,"y":1},{"k":21,"x":65,"y":0.882},{"k":21,"x":69.5,"y":0.607},{"k":21,"x":74,"y":0.325},{"k":21,"x":78.5,"y":0.135},{"k":21,"x":87.5,"y":0.011},
{"k":13,"x":24.8,"y":0},{"k":13,"x":33.8,"y":0.011},{"k":13,"x":42.8,"y":0.135},{"k":13,"x":47.3,"y":0.325},{"k":13,"x":51.8,"y":0.607},{"k":13,"x":56.3,"y":0.882},{"k":13,"x":60.8,"y":1},{"k":13,"x":65.3,"y":0.882},{"k":13,"x":69.8,"y":0.607},{"k":13,"x":74.3,"y":0.325},{"k":13,"x":78.8,"y":0.135},{"k":13,"x":87.8,"y":0.011},
{"k":18,"x":31.3,"y":0},{"k":18,"x":40.3,"y":0.011},{"k":18,"x":49.3,"y":0.135},{"k":18,"x":53.8,"y":0.325},{"k":18,"x":58.3,"y":0.607},{"k":18,"x":62.8,"y":0.882},{"k":18,"x":67.3,"y":1},{"k":18,"x":71.8,"y":0.882},{"k":18,"x":76.3,"y":0.607},{"k":18,"x":80.8,"y":0.325},{"k":18,"x":85.3,"y":0.135},
{"k":19,"x":35.3,"y":0},{"k":19,"x":44.3,"y":0.011},{"k":19,"x":53.3,"y":0.135},{"k":19,"x":57.8,"y":0.325},{"k":19,"x":62.3,"y":0.607},{"k":19,"x":66.8,"y":0.882},{"k":19,"x":71.3,"y":1},{"k":19,"x":75.8,"y":0.882},{"k":19,"x":80.3,"y":0.607},{"k":19,"x":84.8,"y":0.325},
{"k":20,"x":36.7,"y":0},{"k":20,"x":45.7,"y":0.011},{"k":20,"x":54.7,"y":0.135},{"k":20,"x":59.2,"y":0.325},{"k":20,"x":63.7,"y":0.607},{"k":20,"x":68.2,"y":0.882},{"k":20,"x":72.7,"y":1},{"k":20,"x":77.2,"y":0.882},{"k":20,"x":81.7,"y":0.607},{"k":20,"x":86.2,"y":0.325},
{"k":9,"x":30,"y":0},{"k":9,"x":56.1,"y":0},{"k":9,"x":63.1,"y":0.011},{"k":9,"x":70.1,"y":0.135},{"k":9,"x":73.6,"y":0.325},{"k":9,"x":77.1,"y":0.607},{"k":9,"x":80.6,"y":0.882},{"k":9,"x":84.1,"y":1},{"k":9,"x":87.6,"y":0.882}
],
"l6": [
{"lx":36.8,"t":"in1cluster3"},{"lx":40.7,"t":"in1cluster5"},{"lx":43.5,"t":"in1cluster1"},{"lx":43.8,"t":"in1cluster8"},{"lx":46.4,"t":"in1cluster10"},{"lx":46.8,"t":"in1cluster2"},{"lx":47,"t":"in1cluster7"},{"lx":47.3,"t":"in1cluster12"},{"lx":51,"t":"in1cluster16"},{"lx":56.2,"t":"in1cluster4"},{"lx":56.8,"t":"in1cluster11"},{"lx":58.1,"t":"in1cluster14"},{"lx":58.8,"t":"in1cluster17"},{"lx":59.5,"t":"in1cluster6"},{"lx":60,"t":"in1cluster15"},{"lx":60.5,"t":"in1cluster21"},{"lx":60.8,"t":"in1cluster13"},{"lx":67.3,"t":"in1cluster18"},{"lx":71.3,"t":"in1cluster19"},{"lx":72.7,"t":"in1cluster20"},{"lx":81.1,"t":"in1cluster9"}
]
},
"concat": [
 {"width": 346, "height": 274,
  "title": {"text": ["\u200b\u00a0\u00a0\u00a0\u2009Membership function of the skill and ability", "component"], "dx": -60, "offset": 21},
  "layer": [
   {"data": {"name": "p1"}, "mark": {"type": "line", "clip": true},
    "encoding": {
     "x": {"field": "x", "type": "quantitative", "title": "Sh Maharat Tavanaei", "scale": {"domain": [31.6, 80.5], "nice": false, "zero": false}, "axis": {"values": [35,40,45,50,55,60,65,70,75,80], "labelOverlap": false}},
     "y": {"field": "y", "type": "quantitative", "title": "Degree of membership", "scale": {"domain": [-0.1, 1.1], "nice": false}, "axis": {"values": [0,0.2,0.4,0.6,0.8,1], "format": "~g"}},
     "color": {"field": "k", "type": "nominal", "scale": {"domain": [1,2,3,4,5,6,7,8,9,10,11,12,13,14,15,16,17,18,19,20,21,22,23,24,25,26,27,28]}, "legend": null}}},
   {"data": {"name": "l1"}, "mark": {"type": "text"},
    "encoding": {"x": {"field": "lx", "type": "quantitative", "title": "Sh Maharat Tavanaei", "axis": {"values": [35,40,45,50,55,60,65,70,75,80], "labelOverlap": false}}, "y": {"datum": 1.05}, "text": {"field": "t"}}}
  ]},
 {"width": 336, "height": 262,
  "title": {"text": ["\u200b\u00a0\u00a0\u00a0\u2009Membership function of economic-financial", "component"], "dx": -56, "offset": 23},
  "layer": [
   {"data": {"name": "p2"}, "mark": {"type": "line", "clip": true},
    "encoding": {
     "x": {"field": "x", "type": "quantitative", "title": "Sh Eghtesadi Mali", "scale": {"domain": [38, 1271], "nice": false, "zero": false}, "axis": {"values": [200,400,600,800,1000,1200], "format": "d", "labelOverlap": false}},
     "y": {"field": "y", "type": "quantitative", "title": "Degree of membership", "scale": {"domain": [-0.1, 1.1], "nice": false}, "axis": {"values": [0,0.2,0.4,0.6,0.8,1], "format": "~g"}},
     "color": {"field": "k", "type": "nominal", "scale": {"domain": [1,2,3,4,5,6,7,8,9,10,11,12,13,14,15,16,17,18,19,20,21,22,23,24,25,26,27,28]}, "legend": null}}},
   {"data": {"name": "l2"}, "mark": {"type": "text"},
    "encoding": {"x": {"field": "lx", "type": "quantitative", "title": "Sh Eghtesadi Mali", "axis": {"values": [200,400,600,800,1000,1200], "format": "d", "labelOverlap": false}}, "y": {"datum": 1.05}, "text": {"field": "t"}}}
  ]},
 {"width": 352, "height": 277,
  "title": {"text": "Management component membership function", "dx": -60, "offset": 57},
  "layer": [
   {"data": {"name": "p3"}, "mark": {"type": "line", "clip": true},
    "encoding": {
     "x": {"field": "x", "type": "quantitative", "title": "Sh Modiriyati", "scale": {"domain": [25.9, 82.8], "nice": false, "zero": false}, "axis": {"values": [30,35,40,45,50,55,60,65,70,75,80], "labelOverlap": false}},
     "y": {"field": "y", "type": "quantitative", "title": "Degree of membership", "scale": {"domain": [-0.1, 1.1], "nice": false}, "axis": {"values": [0,0.2,0.4,0.6,0.8,1], "format": "~g"}},
     "color": {"field": "k", "type": "nominal", "scale": {"domain": [1,2,3,4,5,6,7,8,9,10,11,12,13,14,15,16,17,18,19,20,21,22,23,24,25,26,27,28]}, "legend": null}}},
   {"data": {"name": "l3"}, "mark": {"type": "text"},
    "encoding": {"x": {"field": "lx", "type": "quantitative", "title": "Sh Modiriyati", "axis": {"values": [30,35,40,45,50,55,60,65,70,75,80], "labelOverlap": false}}, "y": {"datum": 1.05}, "text": {"field": "t"}}}
  ]},
 {"width": 351, "height": 277,
  "title": {"text": "Equipment component membership function", "dx": -60, "offset": 57},
  "layer": [
   {"data": {"name": "p4"}, "mark": {"type": "line", "clip": true},
    "encoding": {
     "x": {"field": "x", "type": "quantitative", "title": "Sh Tajhizat", "scale": {"domain": [14.5, 87.5], "nice": false, "zero": false}, "axis": {"values": [20,30,40,50,60,70,80], "labelOverlap": false}},
     "y": {"field": "y", "type": "quantitative", "title": "Degree of membership", "scale": {"domain": [-0.1, 1.1], "nice": false}, "axis": {"values": [0,0.2,0.4,0.6,0.8,1], "format": "~g"}},
     "color": {"field": "k", "type": "nominal", "scale": {"domain": [1,2,3,4,5,6,7,8,9,10,11,12,13,14,15,16,17,18,19,20,21,22,23,24,25,26,27,28]}, "legend": null}}},
   {"data": {"name": "l4"}, "mark": {"type": "text"},
    "encoding": {"x": {"field": "lx", "type": "quantitative", "title": "Sh Tajhizat", "axis": {"values": [20,30,40,50,60,70,80], "labelOverlap": false}}, "y": {"datum": 1.05}, "text": {"field": "t"}}}
  ]},
 {"width": 359, "height": 280,
  "title": {"text": "Membership function of work experience component", "dx": -60, "offset": 55},
  "layer": [
   {"data": {"name": "p5"}, "mark": {"type": "line", "clip": true},
    "encoding": {
     "x": {"field": "x", "type": "quantitative", "title": "Sh Sabeghe", "scale": {"domain": [19.5, 88.7], "nice": false, "zero": false}, "axis": {"values": [20,30,40,50,60,70,80], "labelOverlap": false}},
     "y": {"field": "y", "type": "quantitative", "title": "Degree of membership", "scale": {"domain": [-0.1, 1.1], "nice": false}, "axis": {"values": [0,0.2,0.4,0.6,0.8,1], "format": "~g"}},
     "color": {"field": "k", "type": "nominal", "scale": {"domain": [1,2,3,4,5,6,7,8,9,10,11,12,13,14,15,16,17,18,19,20,21,22,23,24,25,26,27,28]}, "legend": null}}},
   {"data": {"name": "l5"}, "mark": {"type": "text"},
    "encoding": {"x": {"field": "lx", "type": "quantitative", "title": "Sh Sabeghe", "axis": {"values": [20,30,40,50,60,70,80], "labelOverlap": false}}, "y": {"datum": 1.05}, "text": {"field": "t"}}}
  ]},
 {"width": 356, "height": 280,
  "title": {"text": "Equipment component membership function", "dx": -60, "offset": 55},
  "layer": [
   {"data": {"name": "p6"}, "mark": {"type": "line", "clip": true},
    "encoding": {
     "x": {"field": "x", "type": "quantitative", "title": "Sh Fani", "scale": {"domain": [33.8, 84.1], "nice": false, "zero": false}, "axis": {"values": [35,40,45,50,55,60,65,70,75,80], "labelOverlap": false}},
     "y": {"field": "y", "type": "quantitative", "title": "Degree of membership", "scale": {"domain": [-0.1, 1.1], "nice": false}, "axis": {"values": [0,0.2,0.4,0.6,0.8,1], "format": "~g"}},
     "color": {"field": "k", "type": "nominal", "scale": {"domain": [1,2,3,4,5,6,7,8,9,10,11,12,13,14,15,16,17,18,19,20,21,22,23,24,25,26,27,28]}, "legend": null}}},
   {"data": {"name": "l6"}, "mark": {"type": "text"},
    "encoding": {"x": {"field": "lx", "type": "quantitative", "title": "Sh Fani", "axis": {"values": [35,40,45,50,55,60,65,70,75,80], "labelOverlap": false}}, "y": {"datum": 1.05}, "text": {"field": "t"}}}
  ]}
],
"config": {
 "view": {"stroke": "#8c8c8c", "strokeWidth": 1},
 "range": {"category": ["#2b86c9","#dd6b3d","#eebb3b","#8e4a9c","#84b64a","#6cc9ef","#a8304a","#2b86c9","#dd6b3d","#eebb3b","#8e4a9c","#84b64a","#6cc9ef","#a8304a","#2b86c9","#dd6b3d","#eebb3b","#8e4a9c","#84b64a","#6cc9ef","#a8304a","#2b86c9","#dd6b3d","#eebb3b","#8e4a9c","#84b64a","#6cc9ef","#a8304a"]},
 "axis": {"labelFont": "Liberation Sans", "titleFont": "Liberation Sans", "labelFontSize": 9, "titleFontSize": 10, "titleFontWeight": "normal", "labelColor": "#555555", "titleColor": "#555555", "grid": false, "domain": false, "tickColor": "#888888", "tickSize": -3, "labelPadding": 6, "labelOverlap": false},
 "axisY": {"titlePadding": 5, "labelPadding": 9},
 "axisX": {"titlePadding": 7, "labelOverlap": false},
 "title": {"orient": "bottom", "anchor": "start", "frame": "group", "font": "Liberation Serif", "fontWeight": "bold", "fontSize": 21, "color": "#000000", "lineHeight": 25, "baseline": "top"},
 "line": {"strokeWidth": 1.2, "opacity": 0.9, "interpolate": "monotone"},
 "text": {"font": "Liberation Sans", "fontSize": 8, "color": "#1a1a1a", "baseline": "middle"}
}
}
